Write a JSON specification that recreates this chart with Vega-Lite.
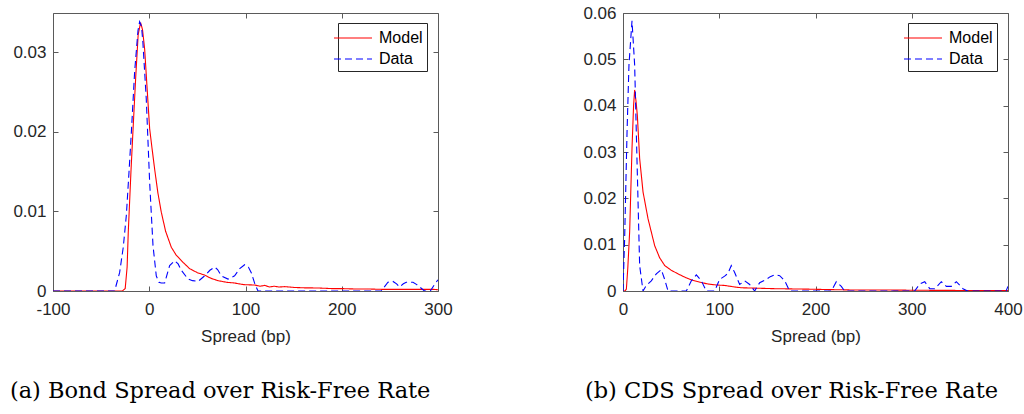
{
  "$schema": "https://vega.github.io/schema/vega-lite/v6.json",
  "padding": {"left": 9, "top": 4, "right": 5, "bottom": 5},
  "background": "white",
  "bounds": "flush",
  "spacing": 185,
  "datasets": {
    "bond": [
      {"series": "Model", "x": -100, "y": 0}, {"series": "Model", "x": -40, "y": 0}, {"series": "Model", "x": -28, "y": 0}, {"series": "Model", "x": -25, "y": 0.0003}, {"series": "Model", "x": -23, "y": 0.003}, {"series": "Model", "x": -21.8, "y": 0.0074}, {"series": "Model", "x": -19, "y": 0.015}, {"series": "Model", "x": -17, "y": 0.0199}, {"series": "Model", "x": -14, "y": 0.027}, {"series": "Model", "x": -11.5, "y": 0.0322}, {"series": "Model", "x": -9, "y": 0.0337}, {"series": "Model", "x": -7, "y": 0.0328}, {"series": "Model", "x": -4.8, "y": 0.0304}, {"series": "Model", "x": -2, "y": 0.025}, {"series": "Model", "x": 0.4, "y": 0.0204}, {"series": "Model", "x": 3, "y": 0.0178}, {"series": "Model", "x": 5.6, "y": 0.0153}, {"series": "Model", "x": 9, "y": 0.0123}, {"series": "Model", "x": 12.5, "y": 0.0099}, {"series": "Model", "x": 17, "y": 0.0075}, {"series": "Model", "x": 22.9, "y": 0.0055}, {"series": "Model", "x": 28, "y": 0.0045}, {"series": "Model", "x": 35.1, "y": 0.0036}, {"series": "Model", "x": 42, "y": 0.0028}, {"series": "Model", "x": 50, "y": 0.0023}, {"series": "Model", "x": 57.5, "y": 0.002}, {"series": "Model", "x": 64, "y": 0.0016}, {"series": "Model", "x": 71.4, "y": 0.0013}, {"series": "Model", "x": 80, "y": 0.0011}, {"series": "Model", "x": 88.7, "y": 0.001}, {"series": "Model", "x": 98, "y": 0.0008}, {"series": "Model", "x": 109.5, "y": 0.00075}, {"series": "Model", "x": 115, "y": 0.0006}, {"series": "Model", "x": 120, "y": 0.0007}, {"series": "Model", "x": 125, "y": 0.0005}, {"series": "Model", "x": 130, "y": 0.0006}, {"series": "Model", "x": 135, "y": 0.0005}, {"series": "Model", "x": 140.6, "y": 0.00055}, {"series": "Model", "x": 150, "y": 0.00045}, {"series": "Model", "x": 160, "y": 0.0004}, {"series": "Model", "x": 175, "y": 0.00038}, {"series": "Model", "x": 190, "y": 0.0003}, {"series": "Model", "x": 200, "y": 0.0003}, {"series": "Model", "x": 215, "y": 0.00025}, {"series": "Model", "x": 227, "y": 0.00025}, {"series": "Model", "x": 245, "y": 0.0002}, {"series": "Model", "x": 260, "y": 0.0002}, {"series": "Model", "x": 280, "y": 0.0002}, {"series": "Model", "x": 296, "y": 0.0002}, {"series": "Model", "x": 300, "y": 0.00015},
      {"series": "Data", "x": -100, "y": 0}, {"series": "Data", "x": -36, "y": 0}, {"series": "Data", "x": -30.8, "y": 0.0023}, {"series": "Data", "x": -27, "y": 0.0055}, {"series": "Data", "x": -23.8, "y": 0.0095}, {"series": "Data", "x": -21, "y": 0.015}, {"series": "Data", "x": -18.6, "y": 0.0199}, {"series": "Data", "x": -15.2, "y": 0.0275}, {"series": "Data", "x": -11.7, "y": 0.0327}, {"series": "Data", "x": -10, "y": 0.0338}, {"series": "Data", "x": -8, "y": 0.0332}, {"series": "Data", "x": -6.6, "y": 0.0312}, {"series": "Data", "x": -3.1, "y": 0.0241}, {"series": "Data", "x": 0.4, "y": 0.0137}, {"series": "Data", "x": 3.9, "y": 0.0057}, {"series": "Data", "x": 7.3, "y": 0.0019}, {"series": "Data", "x": 10, "y": 0.0011}, {"series": "Data", "x": 12.5, "y": 0.001}, {"series": "Data", "x": 16, "y": 0.001}, {"series": "Data", "x": 21.2, "y": 0.0032}, {"series": "Data", "x": 26.4, "y": 0.0038}, {"series": "Data", "x": 30, "y": 0.0034}, {"series": "Data", "x": 33.3, "y": 0.0026}, {"series": "Data", "x": 40.3, "y": 0.0015}, {"series": "Data", "x": 45, "y": 0.0013}, {"series": "Data", "x": 50.6, "y": 0.0012}, {"series": "Data", "x": 57.5, "y": 0.0019}, {"series": "Data", "x": 63, "y": 0.0026}, {"series": "Data", "x": 67.9, "y": 0.003}, {"series": "Data", "x": 71, "y": 0.0027}, {"series": "Data", "x": 74.9, "y": 0.0019}, {"series": "Data", "x": 81.8, "y": 0.0015}, {"series": "Data", "x": 88.7, "y": 0.0019}, {"series": "Data", "x": 94, "y": 0.0028}, {"series": "Data", "x": 99.1, "y": 0.0033}, {"series": "Data", "x": 103, "y": 0.003}, {"series": "Data", "x": 106, "y": 0.0023}, {"series": "Data", "x": 110, "y": 0.0008}, {"series": "Data", "x": 113, "y": 0}, {"series": "Data", "x": 241, "y": 0}, {"series": "Data", "x": 248, "y": 0.0011}, {"series": "Data", "x": 253.2, "y": 0.0012}, {"series": "Data", "x": 257, "y": 0.0009}, {"series": "Data", "x": 260, "y": 0.0005}, {"series": "Data", "x": 264, "y": 0.0009}, {"series": "Data", "x": 267, "y": 0.0011}, {"series": "Data", "x": 274, "y": 0.0011}, {"series": "Data", "x": 278, "y": 0.0008}, {"series": "Data", "x": 281, "y": 0.0005}, {"series": "Data", "x": 286, "y": 0}, {"series": "Data", "x": 292, "y": 0}, {"series": "Data", "x": 298, "y": 0.0011}, {"series": "Data", "x": 300, "y": 0.0014}
    ],
    "cds": [
      {"series": "Model", "x": 0, "y": 0}, {"series": "Model", "x": 2, "y": 0}, {"series": "Model", "x": 3.5, "y": 0.0004}, {"series": "Model", "x": 5, "y": 0.005}, {"series": "Model", "x": 6.9, "y": 0.0127}, {"series": "Model", "x": 9.35, "y": 0.0307}, {"series": "Model", "x": 11, "y": 0.04}, {"series": "Model", "x": 12.1, "y": 0.0434}, {"series": "Model", "x": 13.5, "y": 0.041}, {"series": "Model", "x": 14.9, "y": 0.0379}, {"series": "Model", "x": 17.3, "y": 0.0286}, {"series": "Model", "x": 20.8, "y": 0.0214}, {"series": "Model", "x": 26, "y": 0.0156}, {"series": "Model", "x": 32.9, "y": 0.0098}, {"series": "Model", "x": 38, "y": 0.0072}, {"series": "Model", "x": 43.3, "y": 0.0055}, {"series": "Model", "x": 50, "y": 0.0045}, {"series": "Model", "x": 57.1, "y": 0.0037}, {"series": "Model", "x": 64, "y": 0.003}, {"series": "Model", "x": 71, "y": 0.0024}, {"series": "Model", "x": 80, "y": 0.0019}, {"series": "Model", "x": 88.3, "y": 0.0015}, {"series": "Model", "x": 97, "y": 0.0013}, {"series": "Model", "x": 105.6, "y": 0.0012}, {"series": "Model", "x": 115, "y": 0.0009}, {"series": "Model", "x": 122.9, "y": 0.0007}, {"series": "Model", "x": 140, "y": 0.0006}, {"series": "Model", "x": 157.6, "y": 0.0005}, {"series": "Model", "x": 175, "y": 0.00045}, {"series": "Model", "x": 192, "y": 0.0004}, {"series": "Model", "x": 215, "y": 0.0003}, {"series": "Model", "x": 244, "y": 0.0002}, {"series": "Model", "x": 280, "y": 0.0002}, {"series": "Model", "x": 313, "y": 0.00015}, {"series": "Model", "x": 350, "y": 0.00012}, {"series": "Model", "x": 400, "y": 0.0001},
      {"series": "Data", "x": 0, "y": 0}, {"series": "Data", "x": 1.7, "y": 0.0113}, {"series": "Data", "x": 4.2, "y": 0.0343}, {"series": "Data", "x": 6.2, "y": 0.0488}, {"series": "Data", "x": 9.35, "y": 0.0583}, {"series": "Data", "x": 12.1, "y": 0.0488}, {"series": "Data", "x": 14.5, "y": 0.0286}, {"series": "Data", "x": 17.3, "y": 0.0055}, {"series": "Data", "x": 20.8, "y": 0}, {"series": "Data", "x": 24.2, "y": 0.0012}, {"series": "Data", "x": 29.4, "y": 0.0022}, {"series": "Data", "x": 34.6, "y": 0.0037}, {"series": "Data", "x": 39.8, "y": 0.0046}, {"series": "Data", "x": 43.3, "y": 0.0025}, {"series": "Data", "x": 46.8, "y": 0}, {"series": "Data", "x": 65.8, "y": 0}, {"series": "Data", "x": 71, "y": 0.0022}, {"series": "Data", "x": 76.2, "y": 0.0035}, {"series": "Data", "x": 81.4, "y": 0.0022}, {"series": "Data", "x": 86.6, "y": 0}, {"series": "Data", "x": 95.2, "y": 0}, {"series": "Data", "x": 100.4, "y": 0.0025}, {"series": "Data", "x": 105.6, "y": 0.0032}, {"series": "Data", "x": 109, "y": 0.0038}, {"series": "Data", "x": 112.5, "y": 0.0055}, {"series": "Data", "x": 116, "y": 0.004}, {"series": "Data", "x": 121.2, "y": 0.0014}, {"series": "Data", "x": 126.4, "y": 0.0022}, {"series": "Data", "x": 131.6, "y": 0.0014}, {"series": "Data", "x": 136.8, "y": 0}, {"series": "Data", "x": 142, "y": 0.0018}, {"series": "Data", "x": 148.9, "y": 0.0025}, {"series": "Data", "x": 153, "y": 0.0031}, {"series": "Data", "x": 157.6, "y": 0.0035}, {"series": "Data", "x": 162.8, "y": 0.0033}, {"series": "Data", "x": 168, "y": 0.0022}, {"series": "Data", "x": 173.2, "y": 0}, {"series": "Data", "x": 216.4, "y": 0}, {"series": "Data", "x": 221.6, "y": 0.002}, {"series": "Data", "x": 226.8, "y": 0.001}, {"series": "Data", "x": 230.3, "y": 0}, {"series": "Data", "x": 303, "y": 0}, {"series": "Data", "x": 308.3, "y": 0.0015}, {"series": "Data", "x": 313.5, "y": 0.002}, {"series": "Data", "x": 318.7, "y": 0.0005}, {"series": "Data", "x": 323.9, "y": 0.0005}, {"series": "Data", "x": 330.7, "y": 0.002}, {"series": "Data", "x": 335.9, "y": 0.001}, {"series": "Data", "x": 341.1, "y": 0.001}, {"series": "Data", "x": 346.3, "y": 0.002}, {"series": "Data", "x": 353.2, "y": 0.0005}, {"series": "Data", "x": 358, "y": 0}, {"series": "Data", "x": 398, "y": 0}, {"series": "Data", "x": 400, "y": 0.001}
    ]
  },
  "resolve": {
    "scale": {"stroke": "independent", "strokeDash": "independent", "x": "independent", "y": "independent"},
    "legend": {"stroke": "independent", "strokeDash": "independent"}
  },
  "hconcat": [
    {
      "width": 385,
      "height": 278,
      "data": {"name": "bond"},
      "title": {"text": "(a) Bond Spread over Risk-Free Rate", "orient": "bottom", "anchor": "start", "frame": "bounds", "offset": 36, "dx": -3},
      "resolve": {"axis": {"x": "independent", "y": "independent"}},
      "layer": [
        {
          "mark": {"type": "line", "strokeWidth": 1.1, "clip": true},
          "encoding": {
            "x": {"field": "x", "type": "quantitative", "scale": {"domain": [-100, 300], "nice": false, "zero": false},
                  "axis": {"orient": "bottom", "values": [-100, 0, 100, 200, 300], "labelExpr": "'' + datum.value", "title": "Spread (bp)"}},
            "y": {"field": "y", "type": "quantitative", "scale": {"domain": [0, 0.0349], "nice": false, "zero": false},
                  "axis": {"orient": "left", "values": [0, 0.01, 0.02, 0.03], "labelExpr": "datum.value == 0 ? '0' : format(datum.value, '.2f')", "title": null}},
            "stroke": {"field": "series", "type": "nominal", "scale": {"domain": ["Model", "Data"], "range": ["#ff0000", "#0000ff"]},
                       "legend": {"title": null, "orient": "none", "legendX": 285, "legendY": 10}},
            "strokeDash": {"field": "series", "type": "nominal", "scale": {"domain": ["Model", "Data"], "range": [[1, 0], [7, 4]]},
                       "legend": {"title": null, "orient": "none", "legendX": 285, "legendY": 10}}
          }
        },
        {
          "mark": {"type": "line", "opacity": 0},
          "encoding": {
            "x": {"field": "x", "type": "quantitative", "scale": {"domain": [-100, 300], "nice": false, "zero": false},
                  "axis": {"orient": "top", "values": [-100, 0, 100, 200, 300], "labels": false, "title": null}},
            "y": {"field": "y", "type": "quantitative", "scale": {"domain": [0, 0.0349], "nice": false, "zero": false},
                  "axis": {"orient": "right", "values": [0, 0.01, 0.02, 0.03], "labels": false, "title": null}},
            "detail": {"field": "series"}
          }
        }
      ]
    },
    {
      "width": 385,
      "height": 278,
      "data": {"name": "cds"},
      "title": {"text": "(b) CDS Spread over Risk-Free Rate", "orient": "bottom", "anchor": "start", "frame": "bounds", "offset": 36, "dx": 2},
      "resolve": {"axis": {"x": "independent", "y": "independent"}},
      "layer": [
        {
          "mark": {"type": "line", "strokeWidth": 1.1, "clip": true},
          "encoding": {
            "x": {"field": "x", "type": "quantitative", "scale": {"domain": [0, 400], "nice": false, "zero": false},
                  "axis": {"orient": "bottom", "values": [0, 100, 200, 300, 400], "labelExpr": "'' + datum.value", "title": "Spread (bp)"}},
            "y": {"field": "y", "type": "quantitative", "scale": {"domain": [0, 0.06], "nice": false, "zero": false},
                  "axis": {"orient": "left", "values": [0, 0.01, 0.02, 0.03, 0.04, 0.05, 0.06], "labelExpr": "datum.value == 0 ? '0' : format(datum.value, '.2f')", "title": null}},
            "stroke": {"field": "series", "type": "nominal", "scale": {"domain": ["Model", "Data"], "range": ["#ff0000", "#0000ff"]},
                       "legend": {"title": null, "orient": "none", "legendX": 285, "legendY": 10}},
            "strokeDash": {"field": "series", "type": "nominal", "scale": {"domain": ["Model", "Data"], "range": [[1, 0], [7, 4]]},
                       "legend": {"title": null, "orient": "none", "legendX": 285, "legendY": 10}}
          }
        },
        {
          "mark": {"type": "line", "opacity": 0},
          "encoding": {
            "x": {"field": "x", "type": "quantitative", "scale": {"domain": [0, 400], "nice": false, "zero": false},
                  "axis": {"orient": "top", "values": [0, 100, 200, 300, 400], "labels": false, "title": null}},
            "y": {"field": "y", "type": "quantitative", "scale": {"domain": [0, 0.06], "nice": false, "zero": false},
                  "axis": {"orient": "right", "values": [0, 0.01, 0.02, 0.03, 0.04, 0.05, 0.06], "labels": false, "title": null}},
            "detail": {"field": "series"}
          }
        }
      ]
    }
  ],
  "config": {
    "view": {"stroke": null},
    "axis": {
      "grid": false,
      "domainColor": "#5a5a5a",
      "domainWidth": 1,
      "tickColor": "#5a5a5a",
      "tickSize": -5,
      "tickWidth": 1,
      "labelFlush": false,
      "labelFont": "Liberation Sans",
      "labelFontSize": 17,
      "labelColor": "#262626",
      "titleFont": "Liberation Sans",
      "titleFontSize": 17,
      "titleFontWeight": "normal",
      "titleColor": "#262626"
    },
    "axisBottom": {"labelPadding": 15, "titlePadding": 11},
    "axisLeft": {"labelPadding": 12},
    "legend": {
      "symbolType": "M -1.9 0 H 1.9",
      "symbolSize": 400,
      "symbolStrokeWidth": 1.1,
      "symbolFillColor": "transparent",
      "labelFont": "Liberation Sans",
      "labelFontSize": 16,
      "labelColor": "#000000",
      "strokeColor": "#262626",
      "fillColor": "white",
      "padding": 4,
      "rowPadding": 2,
      "labelOffset": 15,
      "symbolOffset": 0
    },
    "title": {
      "font": "DejaVu Serif",
      "fontSize": 22.5,
      "fontWeight": "normal",
      "color": "#000000"
    }
  }
}
